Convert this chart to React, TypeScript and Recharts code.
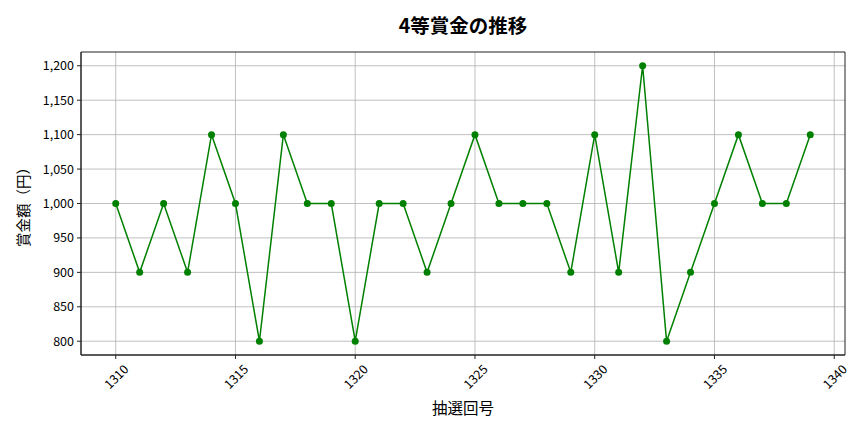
import React from "react";
import {
  LineChart,
  Line,
  XAxis,
  YAxis,
  CartesianGrid,
  ReferenceArea,
} from "recharts";

// draw numbers (抽選回号) and 4th prize amounts (円)
const drawNumbers = [
  1310, 1311, 1312, 1313, 1314, 1315, 1316, 1317, 1318, 1319,
  1320, 1321, 1322, 1323, 1324, 1325, 1326, 1327, 1328, 1329,
  1330, 1331, 1332, 1333, 1334, 1335, 1336, 1337, 1338, 1339,
];
const prizeValues = [
  1000, 900, 1000, 900, 1100, 1000, 800, 1100, 1000, 1000,
  800, 1000, 1000, 900, 1000, 1100, 1000, 1000, 1000, 900,
  1100, 900, 1200, 800, 900, 1000, 1100, 1000, 1000, 1100,
];
const xTicks = [1310, 1315, 1320, 1325, 1330, 1335, 1340];
const yTicks = [800, 850, 900, 950, 1000, 1050, 1100, 1150, 1200];

const X_DOMAIN: [number, number] = [1308.55, 1340.45];
const Y_DOMAIN: [number, number] = [780, 1220];

const FONT = "'Noto Sans CJK JP', 'Noto Sans', sans-serif";

const data = drawNumbers.map((n, i) => ({ draw: n, prize: prizeValues[i] }));

function RotatedTick(props: any) {
  const { x, y, payload } = props;
  const cx = x;
  const cy = y + 15;
  return (
    <text
      x={cx}
      y={cy}
      textAnchor="middle"
      dominantBaseline="central"
      transform={`rotate(-45, ${cx}, ${cy})`}
      fontSize={12.5}
      fill="#000"
      fontFamily={FONT}
    >
      {payload.value}
    </text>
  );
}

export default function App() {
  return (
    <div
      style={{
        position: "absolute",
        left: 0,
        top: 0,
        width: 864,
        height: 432,
        background: "#fff",
        fontFamily: FONT,
      }}
    >
      <div
        style={{
          position: "absolute",
          top: 11,
          left: 81,
          width: 764,
          textAlign: "center",
          fontSize: 19.5,
          lineHeight: "28px",
          fontWeight: "bold",
          color: "#000",
        }}
      >
        4等賞金の推移
      </div>
      <LineChart
        width={864}
        height={432}
        data={data}
        margin={{ top: 52, right: 19, bottom: 0, left: 0 }}
      >
        <CartesianGrid
          stroke="#b0b0b0"
          strokeWidth={0.8}
          horizontalValues={yTicks}
          verticalValues={xTicks}
        />
        <XAxis
          dataKey="draw"
          type="number"
          domain={X_DOMAIN}
          ticks={xTicks}
          allowDataOverflow
          height={77}
          stroke="#222"
          tickSize={4}
          tick={<RotatedTick />}
          interval={0}
          label={{
            value: "抽選回号",
            position: "insideBottom",
            offset: 18,
            style: { fontSize: 15.5, fill: "#000", fontFamily: FONT },
          }}
        />
        <YAxis
          type="number"
          domain={Y_DOMAIN}
          ticks={yTicks}
          allowDataOverflow
          width={81}
          stroke="#222"
          tickSize={4}
          tickMargin={3}
          interval={0}
          tick={{ fontSize: 12.5, fill: "#000", fontFamily: FONT }}
          tickFormatter={(v: number) => v.toLocaleString("en-US")}
          label={{
            content: (p: any) => {
              const vb = p.viewBox || { x: 0, y: 0, height: 0 };
              const cx = vb.x + 22;
              const cy = vb.y + vb.height / 2;
              return (
                <text
                  x={cx}
                  y={cy}
                  textAnchor="middle"
                  dominantBaseline="central"
                  transform={`rotate(-90, ${cx}, ${cy})`}
                  fontSize={14.5}
                  fill="#000"
                  fontFamily={FONT}
                >
                  賞金額（円）
                </text>
              );
            },
          }}
        />
        <ReferenceArea
          x1={X_DOMAIN[0]}
          x2={X_DOMAIN[1]}
          y1={Y_DOMAIN[0]}
          y2={Y_DOMAIN[1]}
          fill="none"
          stroke="#222"
          strokeWidth={1}
          ifOverflow="visible"
        />
        <Line
          type="linear"
          dataKey="prize"
          stroke="#008000"
          strokeWidth={1.5}
          dot={{ r: 3.5, fill: "#008000", stroke: "#008000", strokeWidth: 0 }}
          activeDot={false}
          isAnimationActive={false}
        />
      </LineChart>
    </div>
  );
}
